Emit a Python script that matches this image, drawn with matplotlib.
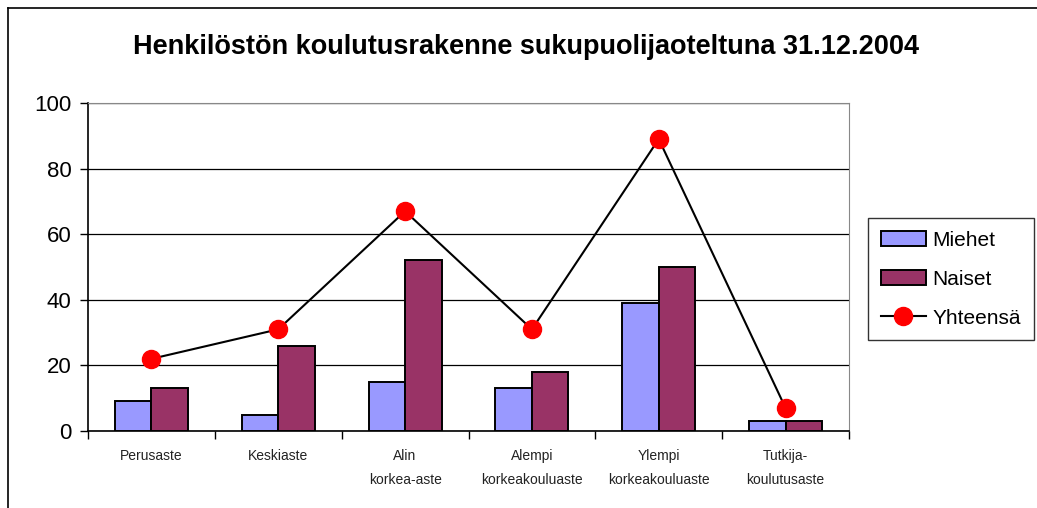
import numpy as np
import matplotlib.pyplot as plt
from matplotlib.lines import Line2D

plt.rcParams['font.family'] = ['Liberation Sans', 'DejaVu Sans']

# data
categories = ["Perusaste", "Keskiaste", "Alin\nkorkea-aste", "Alempi\nkorkeakouluaste",
              "Ylempi\nkorkeakouluaste", "Tutkija-\nkoulutusaste"]
miehet = [9, 5, 15, 13, 39, 3]
naiset = [13, 26, 52, 18, 50, 3]
yhteensa = [22, 31, 67, 31, 89, 7]

fig = plt.figure(figsize=(10.37, 5.08), dpi=100)

# outer chart border (left + top only visible)
fig.add_artist(Line2D([8 / 1037, 8 / 1037], [0, 1 - 8 / 508], transform=fig.transFigure,
                      color='black', lw=1.2))
fig.add_artist(Line2D([8 / 1037, 1], [1 - 8 / 508, 1 - 8 / 508], transform=fig.transFigure,
                      color='black', lw=1.2))

ax = fig.add_axes([88 / 1037, 77 / 508, 761 / 1037, 328 / 508])

x = np.arange(len(categories))
w = 0.288
b1 = ax.bar(x - w / 2, miehet, w, color='#9999FF', edgecolor='black', linewidth=1.4,
            label='Miehet', zorder=3)
b2 = ax.bar(x + w / 2, naiset, w, color='#993366', edgecolor='black', linewidth=1.4,
            label='Naiset', zorder=3)
l1, = ax.plot(x, yhteensa, color='black', lw=1.5, marker='o', markersize=13,
              markerfacecolor='#FF0000', markeredgecolor='#FF0000', label='Yhteensä', zorder=4)

ax.set_xlim(-0.5, len(categories) - 0.5)
ax.set_ylim(0, 100)
ax.set_yticks(range(0, 101, 20))
ax.yaxis.grid(True, color='black', lw=0.9, zorder=0)
ax.tick_params(axis='y', labelsize=16, length=6, width=1, direction='out', pad=6)

# category labels centred, tick marks between categories
ax.set_xticks(x)
ax.set_xticklabels(categories, fontsize=10, color='#222222', linespacing=1.9)
ax.tick_params(axis='x', length=0, pad=13)
ax.set_xticks(np.arange(-0.5, len(categories), 1), minor=True)
ax.tick_params(axis='x', which='minor', length=6, width=1)

for s in ['top', 'right']:
    ax.spines[s].set_color('#888888')
ax.spines['left'].set_color('black')
ax.spines['bottom'].set_color('black')
ax.spines['bottom'].set_linewidth(1.2)
ax.spines['left'].set_linewidth(1.2)

fig.text(0.507, 1 - 47 / 508, "Henkilöstön koulutusrakenne sukupuolijaoteltuna 31.12.2004",
         ha='center', va='center', fontsize=19.5, fontweight='bold')

leg = fig.legend([b1, b2, l1], ['Miehet', 'Naiset', 'Yhteensä'],
                 loc='upper left', bbox_to_anchor=(868 / 1037, 1 - 218 / 508),
                 fontsize=15, frameon=True, fancybox=False, edgecolor='black',
                 handlelength=2.2, handleheight=0.8, labelspacing=0.95,
                 borderpad=0.6, handletextpad=0.3, borderaxespad=0)
leg.get_frame().set_linewidth(1.0)

fig.savefig("out.png", dpi=100)
